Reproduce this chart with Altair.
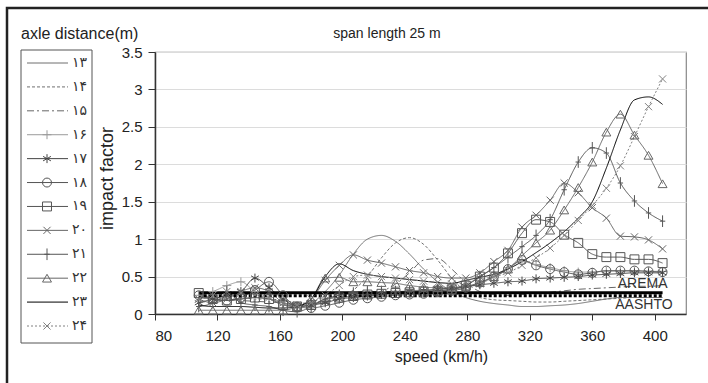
import altair as alt
import pandas as pd

speeds = [108, 117, 126, 135, 144, 153, 162, 171, 180, 189, 198, 207, 216, 225, 234, 243, 252,
          261, 270, 279, 288, 297, 306, 315, 324, 333, 342, 351, 360, 369, 378, 387, 396, 405]

s13 = [0.22, 0.20, 0.18, 0.20, 0.22, 0.20, 0.15, 0.12, 0.15, 0.30, 0.52, 0.80, 1.00, 1.05, 0.97, 0.80, 0.60,
       0.43, 0.30, 0.22, 0.17, 0.14, 0.12, 0.10, 0.10, 0.11, 0.12, 0.14, 0.17, 0.20, 0.22, 0.22, 0.22, 0.22]
s14 = [0.20, 0.22, 0.20, 0.22, 0.20, 0.20, 0.18, 0.15, 0.14, 0.16, 0.22, 0.32, 0.50, 0.75, 0.95, 1.02, 0.93,
       0.72, 0.48, 0.30, 0.22, 0.19, 0.18, 0.17, 0.16, 0.16, 0.17, 0.18, 0.19, 0.20, 0.21, 0.22, 0.22, 0.22]
s15 = [0.15, 0.18, 0.20, 0.18, 0.17, 0.16, 0.15, 0.14, 0.15, 0.17, 0.20, 0.22, 0.25, 0.30, 0.40, 0.55, 0.72,
       0.74, 0.60, 0.42, 0.30, 0.26, 0.25, 0.26, 0.27, 0.29, 0.31, 0.33, 0.34, 0.35, 0.36, 0.37, 0.37, 0.38]
s16 = [0.25, 0.30, 0.38, 0.43, 0.30, 0.22, 0.12, 0.10, 0.12, 0.18, 0.25, 0.28, 0.30, 0.30, 0.30, 0.31, 0.32,
       0.33, 0.34, 0.36, 0.40, 0.50, 0.62, 0.70, 0.66, 0.62, 0.58, 0.56, 0.56, 0.57, 0.57, 0.57, 0.57, 0.57]
s17 = [0.15, 0.20, 0.25, 0.30, 0.48, 0.35, 0.20, 0.10, 0.12, 0.15, 0.20, 0.22, 0.24, 0.26, 0.28, 0.30, 0.31,
       0.33, 0.35, 0.37, 0.39, 0.41, 0.43, 0.44, 0.47, 0.48, 0.49, 0.50, 0.52, 0.53, 0.54, 0.55, 0.55, 0.55]
s18 = [0.25, 0.20, 0.18, 0.22, 0.32, 0.43, 0.25, 0.10, 0.08, 0.11, 0.15, 0.19, 0.21, 0.23, 0.25, 0.26, 0.27,
       0.29, 0.31, 0.35, 0.42, 0.50, 0.60, 0.72, 0.65, 0.60, 0.56, 0.53, 0.55, 0.58, 0.58, 0.58, 0.57, 0.56]
s19 = [0.28, 0.20, 0.18, 0.20, 0.22, 0.20, 0.12, 0.10, 0.12, 0.20, 0.22, 0.24, 0.26, 0.27, 0.28, 0.29, 0.30,
       0.31, 0.33, 0.38, 0.50, 0.62, 0.81, 1.08, 1.26, 1.23, 1.06, 0.95, 0.80, 0.76, 0.76, 0.73, 0.73, 0.68]
s20 = [0.20, 0.15, 0.20, 0.30, 0.35, 0.30, 0.15, 0.10, 0.20, 0.45, 0.65, 0.79, 0.72, 0.68, 0.63, 0.58, 0.55,
       0.50, 0.48, 0.48, 0.55, 0.70, 0.85, 1.16, 1.32, 1.52, 1.75, 1.62, 1.42, 1.28, 1.04, 1.03, 0.99, 0.87]
s21 = [0.10, 0.15, 0.30, 0.15, 0.12, 0.10, 0.05, 0.03, 0.10, 0.20, 0.25, 0.28, 0.30, 0.30, 0.30, 0.30, 0.30,
       0.31, 0.33, 0.38, 0.50, 0.62, 0.76, 0.90, 1.05, 1.26, 1.66, 2.03, 2.22, 2.15, 1.75, 1.51, 1.35, 1.24]
s22 = [0.05, 0.05, 0.05, 0.05, 0.05, 0.05, 0.05, 0.10, 0.20, 0.48, 0.49, 0.43, 0.43, 0.42, 0.41, 0.38, 0.36,
       0.35, 0.35, 0.37, 0.42, 0.50, 0.60, 0.78, 0.95, 1.12, 1.39, 1.69, 2.03, 2.43, 2.67, 2.39, 2.12, 1.74]
s23 = [0.12, 0.10, 0.10, 0.10, 0.09, 0.08, 0.08, 0.10, 0.20, 0.50, 0.67, 0.58, 0.53, 0.50, 0.48, 0.46, 0.44,
       0.42, 0.41, 0.45, 0.49, 0.53, 0.60, 0.70, 0.82, 0.95, 1.10, 1.28, 1.50, 1.95, 2.46, 2.86, 2.90, 2.80]
s24 = [0.20, 0.25, 0.30, 0.28, 0.25, 0.22, 0.15, 0.12, 0.15, 0.25, 0.38, 0.50, 0.52, 0.50, 0.48, 0.46, 0.44,
       0.42, 0.40, 0.42, 0.46, 0.50, 0.55, 0.65, 0.75, 0.88, 1.05, 1.25, 1.45, 1.68, 1.98, 2.37, 2.77, 3.14]

series_names = ["13", "14", "15", "16", "17", "18", "19", "20", "21", "22", "23", "24"]
series_labels = ["۱۳", "۱۴", "۱۵", "۱۶", "۱۷", "۱۸", "۱۹", "۲۰", "۲۱", "۲۲", "۲۳", "۲۴"]
series_values = [s13, s14, s15, s16, s17, s18, s19, s20, s21, s22, s23, s24]

code_names = ["AREMA", "AASHTO"]
code_speeds = [108, 405]
code_values = [0.285, 0.245]

# styles
colors = ["#6f6f6f", "#707070", "#666666", "#9a9a9a", "#444444", "#555555",
          "#555555", "#666666", "#555555", "#666666", "#000000", "#808080"]
dashes = [[1, 0], [3, 2], [7, 3, 2, 3], [1, 0], [1, 0], [1, 0],
          [1, 0], [1, 0], [1, 0], [1, 0], [1, 0], [2, 2]]
widths = [1, 1, 1, 1, 1, 1, 1, 1, 1, 1, 2.2, 1]
marker_names = ["16", "17", "18", "19", "20", "21", "22", "24"]
marker_shapes = [
    "M-1,0L1,0M0,-1L0,1",
    "M0,-1L0,1M-0.87,-0.5L0.87,0.5M-0.87,0.5L0.87,-0.5",
    "circle",
    "square",
    "M-0.8,-0.8L0.8,0.8M-0.8,0.8L0.8,-0.8",
    "M0,-1.3L0,1.3M-0.6,0L0.6,0",
    "triangle-up",
    "M-0.8,-0.8L0.8,0.8M-0.8,0.8L0.8,-0.8",
]

rows = []
for name, vals in zip(series_names, series_values):
    for sp, v in zip(speeds, vals):
        rows.append({"speed": sp, "value": v, "series": name})
df = pd.DataFrame(rows)
dfm = df[df["series"].isin(marker_names)]

code_rows = []
for name, v in zip(code_names, code_values):
    for sp in code_speeds:
        code_rows.append({"speed": sp, "value": v, "code": name})
dfc = pd.DataFrame(code_rows)
dfc_lab = dfc[dfc["speed"] == max(code_speeds)]

leg = pd.DataFrame({"series": series_names, "label": series_labels,
                    "axle": [int(s) for s in series_names]})
legm = leg[leg["series"].isin(marker_names)]

FONT = "Liberation Sans"
xscale = alt.Scale(domain=[80, 420], nice=False, zero=False)
yscale = alt.Scale(domain=[0, 3.5], nice=False)
colscale = alt.Scale(domain=series_names, range=colors)
dashscale = alt.Scale(domain=series_names, range=dashes)
wscale = alt.Scale(domain=series_names, range=widths)
shapescale = alt.Scale(domain=marker_names, range=marker_shapes)
legy = alt.Scale(domain=[13, 24], range=[11, 274])

xaxis = alt.Axis(values=[80, 120, 160, 200, 240, 280, 320, 360, 400], title="speed (km/h)",
                 grid=False, tickSize=6, labelPadding=8, labelFontSize=15, titleFontSize=16,
                 titleFontWeight="normal", labelFont=FONT, titleFont=FONT,
                 domainColor="#333333", tickColor="#333333", labelColor="#222222", titleColor="#222222",
                 titleX=286, titleY=42, titleBaseline="middle", domainWidth=1.5)
yaxis = alt.Axis(values=[0, 0.5, 1, 1.5, 2, 2.5, 3, 3.5], format="~g", title="impact factor",
                 grid=True, gridColor="#dcdcdc", tickSize=7, labelPadding=6, labelFontSize=15,
                 titleFontSize=18, titleFontWeight="normal", labelFont=FONT, titleFont=FONT,
                 domainColor="#333333", tickColor="#333333", labelColor="#222222", titleColor="#222222",
                 titleX=-48, titleY=126, titleBaseline="middle", domainWidth=1.5)

X = alt.X("speed:Q", scale=xscale, axis=xaxis)

lines = alt.Chart(df).mark_line(interpolate="monotone").encode(
    x=X,
    y=alt.Y("value:Q", scale=yscale, axis=yaxis),
    detail="series:N",
    color=alt.Color("series:N", scale=colscale, legend=None),
    strokeDash=alt.StrokeDash("series:N", scale=dashscale, legend=None),
    strokeWidth=alt.StrokeWidth("series:N", scale=wscale, legend=None),
)

markers = alt.Chart(dfm).mark_point(filled=False, size=80, strokeWidth=1, opacity=1).encode(
    x=X,
    y=alt.Y("value:Q", scale=yscale, axis=None),
    shape=alt.Shape("series:N", scale=shapescale, legend=None),
    color=alt.Color("series:N", scale=colscale, legend=None),
)

codes = alt.Chart(dfc).mark_line(color="#000000", strokeWidth=3).encode(
    x=X,
    y=alt.Y("value:Q", scale=yscale, axis=None),
    detail="code:N",
    strokeDash=alt.StrokeDash("code:N", scale=alt.Scale(domain=code_names, range=[[1, 0], [9, 4]]),
                              legend=None),
)

arema_lab = alt.Chart(dfc_lab[dfc_lab["code"] == "AREMA"]).mark_text(
    align="right", baseline="middle", dx=5, dy=-9, fontSize=14, font=FONT, color="#333333"
).encode(x=X, y=alt.Y("value:Q", scale=yscale, axis=None), text="code:N")
aashto_lab = alt.Chart(dfc_lab[dfc_lab["code"] == "AASHTO"]).mark_text(
    align="right", baseline="middle", dx=10, dy=9, fontSize=14, font=FONT, color="#333333"
).encode(x=X, y=alt.Y("value:Q", scale=yscale, axis=None), text="code:N")

# legend (manual)
leg_lines = alt.Chart(leg).mark_rule().encode(
    x=alt.value(-128), x2=alt.value(-87),
    y=alt.Y("axle:Q", scale=legy, axis=None),
    color=alt.Color("series:N", scale=colscale, legend=None),
    strokeDash=alt.StrokeDash("series:N", scale=dashscale, legend=None),
    strokeWidth=alt.StrokeWidth("series:N", scale=wscale, legend=None),
)
leg_marks = alt.Chart(legm).mark_point(filled=False, size=80, strokeWidth=1, opacity=1).encode(
    x=alt.value(-108),
    y=alt.Y("axle:Q", scale=legy, axis=None),
    shape=alt.Shape("series:N", scale=shapescale, legend=None),
    color=alt.Color("series:N", scale=colscale, legend=None),
)
leg_text = alt.Chart(leg).mark_text(align="left", baseline="middle", fontSize=14,
                                    font="DejaVu Sans", color="#333333").encode(
    x=alt.value(-83),
    y=alt.Y("axle:Q", scale=legy, axis=None),
    text="label:N",
)
box_df = pd.DataFrame({"k": [0]})
leg_box = alt.Chart(box_df).mark_rect(fill="transparent", stroke="#555555", strokeWidth=1).encode(
    x=alt.value(-134), x2=alt.value(-63), y=alt.value(-2), y2=alt.value(291))
frame = alt.Chart(box_df).mark_rect(fill="transparent", stroke="#222222", strokeWidth=2.5).encode(
    x=alt.value(-148), x2=alt.value(600), y=alt.value(-44), y2=alt.value(420))

title_df = pd.DataFrame({"t": ["span length 25 m"]})
legtitle_df = pd.DataFrame({"t": ["axle distance(m)"]})
title = alt.Chart(title_df).mark_text(align="center", baseline="middle", fontSize=14, font=FONT,
                                      color="#222222").encode(
    x=alt.value(232), y=alt.value(-18), text="t:N")
legtitle = alt.Chart(legtitle_df).mark_text(align="left", baseline="middle", fontSize=16, font=FONT,
                                            color="#222222").encode(
    x=alt.value(-134), y=alt.value(-18), text="t:N")

chart = alt.layer(
    frame, lines, codes, markers, arema_lab, aashto_lab,
    leg_box, leg_lines, leg_marks, leg_text, title, legtitle
).resolve_scale(y="independent").properties(
    width=531, height=262,
    padding={"left": 155, "top": 52, "right": 22, "bottom": 69},
    autosize=alt.AutoSizeParams(type="none"),
    background="white",
).configure_view(stroke="#888888", strokeWidth=1.2)

chart.save("out.html", embed_options={"renderer": "svg", "actions": False})
